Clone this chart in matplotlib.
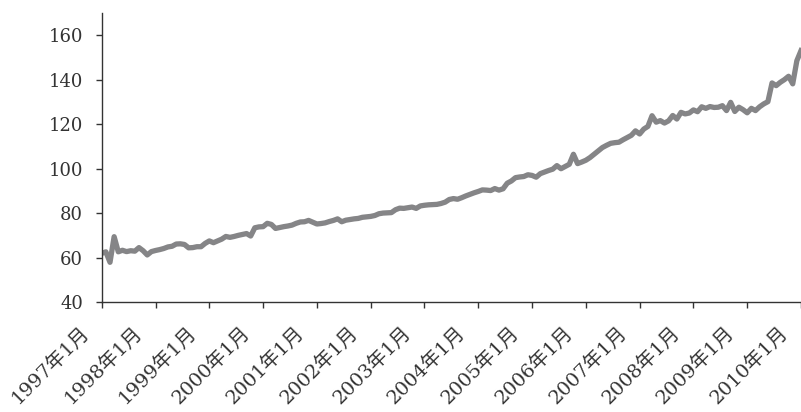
import matplotlib
matplotlib.use('Agg')
import matplotlib.pyplot as plt
from matplotlib.transforms import ScaledTranslation
import numpy as np

# monthly index values (170 points)
values = [
    62.0, 62.7, 58.0, 69.5, 62.7, 63.4, 62.8, 63.2, 63.0, 64.6,
    63.2, 61.3, 62.8, 63.3, 63.7, 64.2, 64.9, 65.2, 66.2, 66.3,
    66.0, 64.5, 64.6, 65.0, 65.0, 66.5, 67.6, 66.8, 67.6, 68.4,
    69.6, 69.2, 69.6, 70.1, 70.5, 70.9, 69.8, 73.5, 73.9, 74.0,
    75.5, 75.0, 73.2, 73.6, 74.0, 74.3, 74.7, 75.5, 76.1, 76.2,
    76.8, 76.0, 75.2, 75.4, 75.7, 76.3, 76.8, 77.5, 76.2, 76.9,
    77.2, 77.5, 77.7, 78.2, 78.4, 78.6, 79.0, 79.8, 80.1, 80.2,
    80.3, 81.6, 82.3, 82.2, 82.5, 82.8, 82.2, 83.3, 83.6, 83.8,
    83.9, 84.0, 84.4, 85.0, 86.2, 86.6, 86.3, 87.0, 87.8, 88.5,
    89.2, 89.8, 90.5, 90.4, 90.2, 91.1, 90.4, 91.0, 93.5, 94.5,
    96.0, 96.3, 96.5, 97.3, 97.0, 96.2, 97.8, 98.5, 99.2, 99.8,
    101.4, 100.0, 101.0, 102.0, 106.5, 102.3, 103.0, 103.8, 105.0, 106.5,
    108.0, 109.5, 110.5, 111.4, 111.7, 111.9, 113.0, 114.0, 115.0, 117.0,
    115.6, 117.8, 119.0, 123.8, 120.9, 121.6, 120.5, 121.5, 123.9, 122.3,
    125.3, 124.6, 125.0, 126.4, 125.6, 127.8, 127.1, 127.9, 127.5, 127.6,
    128.3, 126.1, 129.8, 125.7, 127.6, 126.5, 125.1, 127.1, 126.1, 127.8,
    129.1, 130.1, 138.5, 137.3, 138.8, 140.0, 141.5, 138.1, 148.5, 153.0,
]
tick_labels = ['%d年1月' % y for y in range(1997, 2011)]
y_ticks = [40, 60, 80, 100, 120, 140, 160]

plt.rcParams['font.family'] = ['DejaVu Serif', 'Noto Sans CJK JP']

fig = plt.figure(figsize=(8.01, 4.12), dpi=100)
ax = fig.add_axes([0.127, 0.266, 0.873, 0.703])

x = np.arange(len(values))
ax.plot(x, values, color='#858587', linewidth=3.8, solid_joinstyle='round')

ax.set_xlim(0, len(values) - 1)
ax.set_ylim(40, 170)
ax.set_yticks(y_ticks)
ax.set_xticks(np.arange(0, len(values), 13))
ax.set_xticklabels(tick_labels, rotation=45, ha='right', va='top')

for s in ['top', 'right']:
    ax.spines[s].set_visible(False)
for s in ['left', 'bottom']:
    ax.spines[s].set_color('#333333')
    ax.spines[s].set_linewidth(1.0)

ax.tick_params(axis='both', colors='#333333', labelcolor='#333333',
               length=4.5, width=1.0)
ax.tick_params(axis='y', pad=9, labelsize=13)
ax.tick_params(axis='x', pad=10, labelsize=14)

# shift rotated labels a bit left like the original
offset = ScaledTranslation(-7 / 72, 0, fig.dpi_scale_trans)
for lab in ax.get_xticklabels():
    lab.set_transform(lab.get_transform() + offset)

fig.savefig('out.png', dpi=100)
